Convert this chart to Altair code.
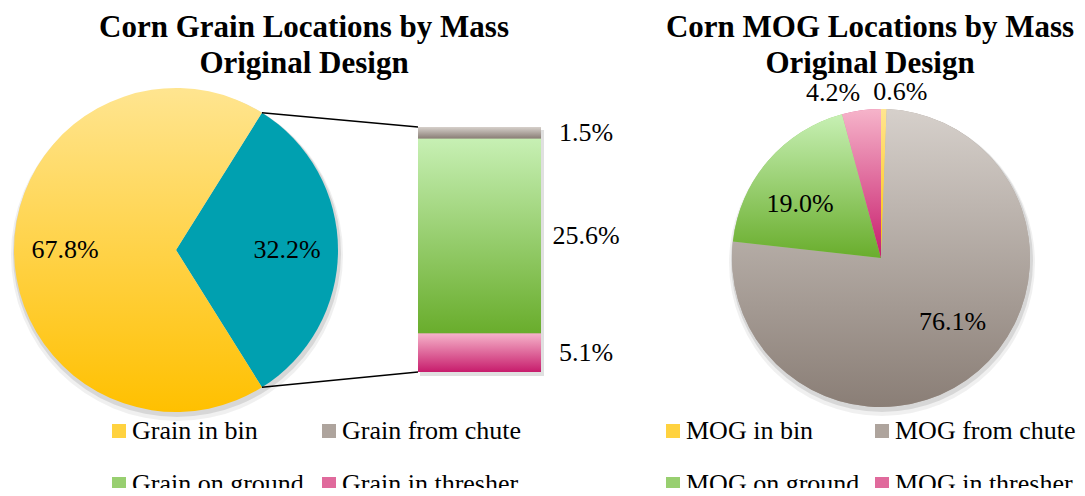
import math
import altair as alt
import pandas as pd

# ---------------- data ----------------
grain_pie_cats = ["Grain elsewhere", "Grain in bin"]
grain_pie_values = [32.2, 67.8]
grain_pie_labels = ["32.2%", "67.8%"]

grain_bar_cats = ["Grain in thresher", "Grain on ground", "Grain from chute"]  # bottom -> top
grain_bar_values = [5.1, 25.6, 1.5]
grain_bar_labels = ["5.1%", "25.6%", "1.5%"]

# legend order (filled column by column)
grain_legend_cats = ["Grain in bin", "Grain on ground", "Grain from chute", "Grain in thresher"]

mog_cats = ["MOG in bin", "MOG from chute", "MOG on ground", "MOG in thresher"]
mog_values = [0.6, 76.1, 19.0, 4.2]
mog_labels = ["0.6%", "76.1%", "19.0%", "4.2%"]
mog_legend_cats = ["MOG in bin", "MOG on ground", "MOG from chute", "MOG in thresher"]

left_title = ["Corn Grain Locations by Mass", "Original Design"]
right_title = ["Corn MOG Locations by Mass", "Original Design"]

# ---------------- style / layout ----------------
W, H = 1069, 480
LCX, LCY, LR = 168, 242, 162
RCX, RCY, RR = 873, 250, 149
BAR_X0, BAR_X1, BAR_TOP, BAR_BOT = 410, 533, 119, 364
SERIF = "Liberation Serif"

solid = {"bin": "#FFD23F", "chute": "#AEA49D", "ground": "#98CF70", "thresher": "#E06A9C"}
grad_stops = {
    "bin": ("#FFE590", "#FFC000"),
    "chute": ("#D6D0CB", "#8A7E76"),
    "ground": ("#C7F0B4", "#69AD2C"),
    "thresher": ("#F6B4CA", "#C71C6C"),
}
TEAL = "#00A0B0"


def key(cat):
    for k in ["in bin", "chute", "ground", "thresher"]:
        if cat.endswith(k):
            return k.replace("in ", "")
    return None


def grad(k):
    top, bottom = grad_stops[k]
    return alt.Gradient(
        gradient="linear",
        stops=[alt.GradientStop(color=top, offset=0), alt.GradientStop(color=bottom, offset=1)],
        x1=0, x2=0, y1=0, y2=1,
    )


def pie_frame(cats, vals, labels):
    rows, s = [], 0.0
    for c, v, l in zip(cats, vals, labels):
        rows.append(dict(cat=c, value=v, start=s, end=s + v, mid=s + v / 2, label=l))
        s += v
    return pd.DataFrame(rows)


grain_pie = pie_frame(grain_pie_cats, grain_pie_values, grain_pie_labels)
mog_pie = pie_frame(mog_cats, mog_values, mog_labels)

# left pie is rotated so that the split-off slice is centred at 3 o'clock
share = grain_pie_values[0] / sum(grain_pie_values)
theta0 = (0.5 - share) * math.pi
left_theta = alt.Scale(domain=[0, sum(grain_pie_values)], range=[theta0, theta0 + 2 * math.pi])
right_theta = alt.Scale(domain=[0, sum(mog_values)], range=[0, 2 * math.pi])

# bar of pie
bar_rows, s = [], 0.0
for c, v, l in zip(grain_bar_cats, grain_bar_values, grain_bar_labels):
    bar_rows.append(dict(cat=c, value=v, y0=s, y1=s + v, ymid=s + v / 2, label=l))
    s += v
bar_df = pd.DataFrame(bar_rows)
bar_total = s
yscale = alt.Scale(domain=[0, bar_total], range=[BAR_BOT, BAR_TOP])

legend_df = pd.concat(
    [bar_df, pd.DataFrame([dict(cat="Grain in bin", value=0, y0=bar_total, y1=bar_total, ymid=bar_total, label="")])],
    ignore_index=True,
)

layers = []

# shadows
one = pd.DataFrame({"k": [0]})
for extra, op, dy in [(4, 0.06, 5), (2, 0.10, 3)]:
    layers.append(alt.Chart(one).mark_arc(radius=LR + extra, theta=0, theta2=2 * math.pi, fill="#000", opacity=op)
                  .encode(x=alt.value(LCX + 1), y=alt.value(LCY + dy)))
    layers.append(alt.Chart(one).mark_arc(radius=RR + extra, theta=0, theta2=2 * math.pi, fill="#000", opacity=op)
                  .encode(x=alt.value(RCX + 1), y=alt.value(RCY + dy)))
layers.append(alt.Chart(one).mark_rect(fill="#000", opacity=0.12)
              .encode(x=alt.value(BAR_X0 + 2), x2=alt.value(BAR_X1 + 3), y=alt.value(BAR_TOP + 3), y2=alt.value(BAR_BOT + 4)))

common_legend = dict(
    orient="none", columns=2, title=None, labelFont=SERIF, labelFontSize=26, labelColor="black",
    symbolType="square", symbolSize=196, symbolStrokeWidth=0, labelOffset=0, labelLimit=400,
    padding=0, rowPadding=27,
)

# grain legend base (hidden under the bar)
layers.append(
    alt.Chart(legend_df).mark_rect().encode(
        x=alt.value(BAR_X0), x2=alt.value(BAR_X1),
        y=alt.Y("y0:Q", scale=yscale, axis=None), y2="y1:Q",
        color=alt.Color("cat:N",
                        scale=alt.Scale(domain=grain_legend_cats, range=[solid[key(c)] for c in grain_legend_cats]),
                        legend=alt.Legend(legendX=98, legendY=410, columnPadding=12, **common_legend)),
    )
)

# mog legend base (hidden under the pie)
layers.append(
    alt.Chart(mog_pie).mark_arc(radius=RR).encode(
        theta=alt.Theta("start:Q", scale=right_theta), theta2="end:Q",
        x=alt.value(RCX), y=alt.value(RCY),
        color=alt.Color("cat:N",
                        scale=alt.Scale(domain=mog_legend_cats, range=[solid[key(c)] for c in mog_legend_cats]),
                        legend=alt.Legend(legendX=652, legendY=410, columnPadding=9, **common_legend)),
    )
)

# left pie slices
for c in grain_pie_cats:
    fill = TEAL if c == grain_pie_cats[0] else grad("bin")
    layers.append(
        alt.Chart(grain_pie).transform_filter(alt.datum.cat == c).mark_arc(radius=LR, fill=fill).encode(
            theta=alt.Theta("start:Q", scale=left_theta), theta2="end:Q",
            x=alt.value(LCX), y=alt.value(LCY),
        )
    )

# right pie slices
for c in mog_cats:
    layers.append(
        alt.Chart(mog_pie).transform_filter(alt.datum.cat == c).mark_arc(radius=RR, fill=grad(key(c))).encode(
            theta=alt.Theta("start:Q", scale=right_theta), theta2="end:Q",
            x=alt.value(RCX), y=alt.value(RCY),
        )
    )

# bar segments
for c in grain_bar_cats:
    layers.append(
        alt.Chart(bar_df).transform_filter(alt.datum.cat == c).mark_rect(fill=grad(key(c))).encode(
            x=alt.value(BAR_X0), x2=alt.value(BAR_X1),
            y=alt.Y("y0:Q", scale=yscale, axis=None), y2="y1:Q",
        )
    )

# connector lines (from slice edges to bar corners)
a_top = theta0
a_bot = theta0 + share * 2 * math.pi
for a, by in [(a_top, BAR_TOP), (a_bot, BAR_BOT)]:
    layers.append(
        alt.Chart(one).mark_rule(color="black", strokeWidth=1.6).encode(
            x=alt.value(LCX + LR * math.sin(a)), y=alt.value(LCY - LR * math.cos(a)),
            x2=alt.value(BAR_X0), y2=alt.value(by),
        )
    )

txt = dict(font=SERIF, fontSize=26, color="black", baseline="middle")

# left pie labels
layers.append(
    alt.Chart(grain_pie).mark_text(radius=111, align="center", **txt).encode(
        theta=alt.Theta("mid:Q", scale=left_theta), text="label:N",
        x=alt.value(LCX), y=alt.value(LCY),
    )
)

# bar labels
layers.append(
    alt.Chart(bar_df).mark_text(align="center", **txt).encode(
        y=alt.Y("ymid:Q", scale=yscale, axis=None), x=alt.value(578), text="label:N",
    )
)

# right pie labels: (category, radius, align, dx, dy)
mog_label_pos = [
    ("MOG from chute", 96, "center", 9, -9),
    ("MOG on ground", 96, "center", -8, 9),
    ("MOG in thresher", 166, "right", 1, 0),
    ("MOG in bin", 166, "left", -11, 0),
]
for c, rad, al, dx, dy in mog_label_pos:
    layers.append(
        alt.Chart(mog_pie).transform_filter(alt.datum.cat == c)
        .mark_text(radius=rad, align=al, dx=dx, dy=dy, **txt).encode(
            theta=alt.Theta("mid:Q", scale=right_theta), text="label:N",
            x=alt.value(RCX), y=alt.value(RCY),
        )
    )

# titles
tdf = pd.DataFrame({"k": [0]})
for lines, cx in [(left_title, 296), (right_title, 862)]:
    for i, line in enumerate(lines):
        layers.append(
            alt.Chart(tdf).mark_text(font=SERIF, fontSize=31, fontWeight="bold", color="black",
                                     align="center", baseline="alphabetic").encode(
                x=alt.value(cx), y=alt.value(29 + 36 * i), text=alt.value(line),
            )
        )

chart = (
    alt.layer(*layers)
    .resolve_scale(color="independent", theta="independent")
    .properties(width=W, height=H, autosize=alt.AutoSizeParams(type="none"), padding=0, background="white")
    .configure_view(stroke=None)
)

chart.save("out.html", embed_options={"renderer": "svg", "actions": False})
